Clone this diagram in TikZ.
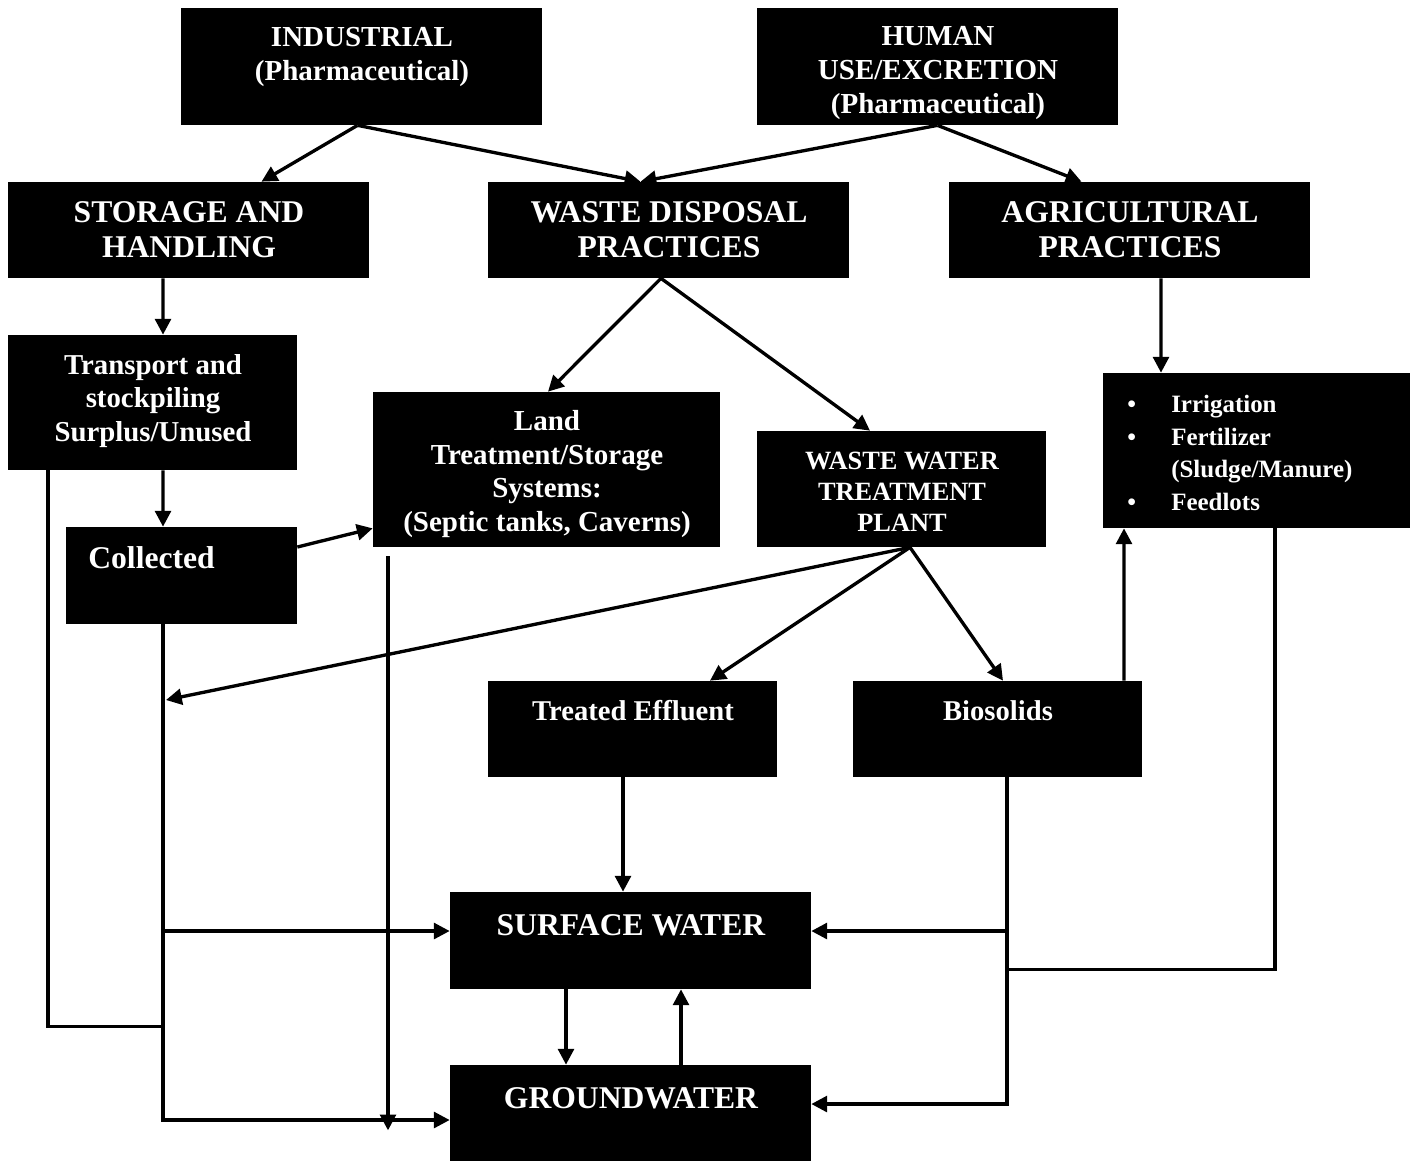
\documentclass[tikz,border=0pt]{standalone}
\usepackage{fontspec}
\setmainfont{Liberation Serif}
\usetikzlibrary{shapes,arrows,arrows.meta,positioning,calc}

\newcommand{\fs}[2]{\fontsize{#1}{#2}\selectfont\bfseries}

\begin{document}
\begin{tikzpicture}[x=0.02cm, y=-0.02cm,
  blk/.style={fill=black, inner sep=0pt},
  wt/.style={text=white, align=center, inner sep=0pt},
  arr/.style={line width=1.9pt, -{Triangle[length=9pt, width=9pt]}},
  ln/.style={line width=1.9pt}]
\useasboundingbox (0,0) rectangle (1413,1161);

% source boxes
\node[blk, minimum width=7.22cm, minimum height=2.34cm] (ind) at (361.5,66.5) {};
\node[blk, minimum width=7.22cm, minimum height=2.34cm] (hum) at (937.5,66.5) {};
\node[wt, font=\fs{16.5}{19.5}] (indt) at (362,57) {INDUSTRIAL\\(Pharmaceutical)};
\node[wt, font=\fs{16.5}{19.2}] (humt) at (938,73) {HUMAN\\USE/EXCRETION\\(Pharmaceutical)};

% practices
\node[blk, minimum width=7.22cm, minimum height=1.92cm] (stor) at (188.5,230) {};
\node[blk, minimum width=7.22cm, minimum height=1.92cm] (wdp) at (668.5,230) {};
\node[blk, minimum width=7.22cm, minimum height=1.92cm] (agr) at (1129.5,230) {};
\node[wt, font=\fs{18}{20}] (stort) at (189,230) {STORAGE AND\\HANDLING};
\node[wt, font=\fs{18}{20}] (wdpt) at (669,230) {WASTE DISPOSAL\\PRACTICES};
\node[wt, font=\fs{18}{20}] (agrt) at (1130,230) {AGRICULTURAL\\PRACTICES};

% middle boxes
\node[blk, minimum width=5.78cm, minimum height=2.7cm] (trans) at (152.5,402.5) {};
\node[wt, font=\fs{16.4}{19}] (transt) at (153,401) {Transport and\\stockpiling\\Surplus/Unused};
\node[blk, minimum width=4.62cm, minimum height=1.94cm] (coll) at (181.5,575.5) {};
\node[wt, anchor=west, font=\fs{18}{20}] (collt) at (88,558) {Collected};
\node[blk, minimum width=6.94cm, minimum height=3.1cm] (land) at (546.5,469.5) {};
\node[wt, font=\fs{16.5}{19}] (landt) at (547,474) {Land\\Treatment/Storage\\Systems:\\(Septic tanks, Caverns)};
\node[blk, minimum width=5.78cm, minimum height=2.32cm] (wwtp) at (901.5,489) {};
\node[wt, font=\fs{15}{17.6}] (wwtpt) at (902,492) {WASTE WATER\\TREATMENT\\PLANT};
\node[blk, minimum width=6.14cm, minimum height=3.1cm] (irr) at (1256.5,450.5) {};
\node[wt, anchor=west, align=left, font=\fs{14.2}{18.5}] (irrt) at (1127,455)
  {\begin{tabular}{@{}p{25pt}@{}l@{}}
   \textbullet & Irrigation\\
   \textbullet & Fertilizer\\
               & (Sludge/Manure)\\
   \textbullet & Feedlots
   \end{tabular}};

% outputs of the plant
\node[blk, minimum width=5.78cm, minimum height=1.92cm] (eff) at (632.5,729) {};
\node[blk, minimum width=5.78cm, minimum height=1.92cm] (bio) at (997.5,729) {};
\node[wt, font=\fs{16.3}{19}] (efft) at (633,711) {Treated Effluent};
\node[wt, font=\fs{16.3}{19}] (biot) at (998,711) {Biosolids};

% receiving waters
\node[blk, minimum width=7.22cm, minimum height=1.94cm] (surf) at (630.5,940.5) {};
\node[blk, minimum width=7.22cm, minimum height=1.92cm] (gw) at (630.5,1113) {};
\node[wt, font=\fs{18}{20}] (surft) at (631,925) {SURFACE WATER};
\node[wt, font=\fs{18}{20}] (gwt) at (631,1098) {GROUNDWATER};

% drop points of the long lines
\coordinate (cdrop) at ($(coll.south)+(-18.5,0)$);
\coordinate (bdrop) at ($(bio.south)+(9.5,0)$);
\coordinate (swin) at ($(surf.west)+(0,-9.5)$);
\coordinate (sein) at ($(surf.east)+(0,-9.5)$);
\coordinate (gwin) at ($(gw.west)+(0,7)$);
\coordinate (gein) at ($(gw.east)+(0,-9)$);
\coordinate (lhit) at (166,700);

% top arrows
\draw[arr] ($(ind.south)+(-4,0)$) -- ($(stor.north)+(73,0)$);
\draw[arr] ($(ind.south)+(-4,0)$) -- ($(wdp.north)+(-28,0)$);
\draw[arr] (hum.south) -- ($(wdp.north)+(-28,0)$);
\draw[arr] (hum.south) -- ($(agr.north)+(-48,0)$);
\draw[arr] ($(stor.south)+(-25.5,0)$) -- ($(trans.north)+(10.5,0)$);
\draw[arr] ($(wdp.south)+(-7.5,0)$) -- ($(land.north)+(1.5,0)$);
\draw[arr] ($(wdp.south)+(-7.5,0)$) -- ($(wwtp.north)+(-31.5,0)$);
\draw[arr] ($(agr.south)+(31.5,0)$) -- ($(irr.north)+(-95.5,0)$);
\draw[arr] ($(trans.south)+(10.5,0)$) -- ($(coll.north)+(-18.5,0)$);
\draw[arr] ($(coll.east)+(0,-28.5)$) -- ($(land.south west)+(0,-19)$);

% plant arrows
\draw[arr] ($(wwtp.south)+(8.5,0)$) -- (lhit);
\draw[arr] ($(wwtp.south)+(8.5,0)$) -- ($(eff.north)+(77.5,0)$);
\draw[arr] ($(wwtp.south)+(8.5,0)$) -- ($(bio.north)+(5.5,0)$);
\draw[arr] ($(bio.north)+(126.5,0)$) -- ($(irr.south)+(-132.5,0)$);
\draw[arr] ($(eff.south)+(-9.5,0)$) -- ($(surf.north)+(-7.5,0)$);

% left side lines
\draw[arr] (cdrop) |- (gwin);
\draw[arr] (cdrop |- swin) -- (swin);
\draw[ln] ($(trans.south)+(-104.5,0)$) -- ++(0,556) -- ++(115,0);
\draw[arr] ($(land.south)+(-158.5,9)$) -- ++(0,574);

% right side lines
\draw[arr] (bdrop) |- (gein);
\draw[arr] (bdrop |- sein) -- (sein);
\draw[ln] ($(irr.south)+(18.5,0)$) |- ($(bdrop)+(0,192)$);

% surface water and groundwater
\draw[arr] ($(surf.south)+(-64.5,0)$) -- ($(gw.north)+(-64.5,0)$);
\draw[arr] ($(gw.north)+(50.5,0)$) -- ($(surf.south)+(50.5,0)$);
\end{tikzpicture}
\end{document}
